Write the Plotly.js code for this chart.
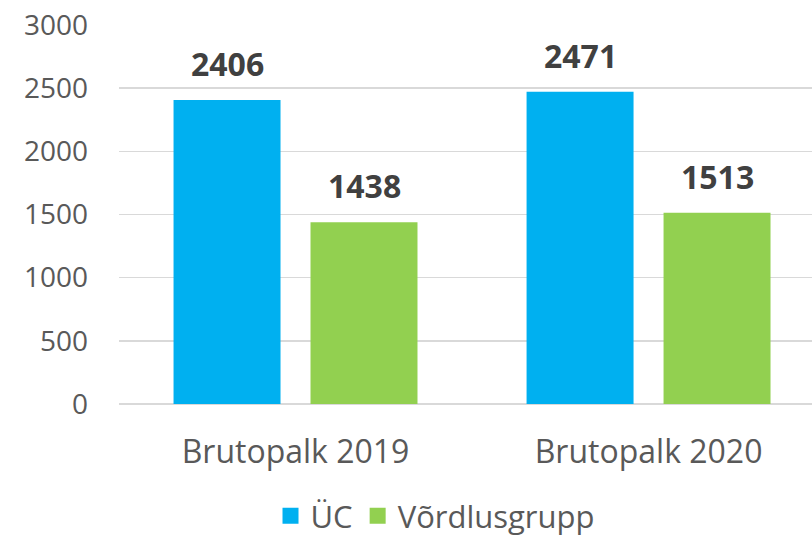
<!DOCTYPE html>
<html>
<head>
<meta charset="utf-8">
<script src="https://cdn.plot.ly/plotly-3.0.1.min.js"></script>
<style>html,body{margin:0;padding:0;background:#fff;}#chart{width:812px;height:539px;}</style>
</head>
<body>
<div id="chart"></div>
<script>
const categories = ["Brutopalk 2019", "Brutopalk 2020"];
const seriesNames = ["ÜC", "Võrdlusgrupp"];
const ucValues = [2406, 2471];
const groupValues = [1438, 1513];
const colors = ["#00B0F0", "#92D050"];
const yTicks = [0, 500, 1000, 1500, 2000, 2500, 3000];

const seriesValues = [ucValues, groupValues];
const FONT = "'Open Sans', 'Noto Sans', sans-serif";

const traces = seriesValues.map((vals, i) => ({
  type: "bar",
  name: seriesNames[i],
  x: categories,
  y: vals,
  marker: { color: colors[i] },
  showlegend: false,
  hoverinfo: "x+y+name"
}));

seriesNames.forEach((n, i) => {
  traces.push({
    type: "scatter",
    mode: "markers",
    name: n,
    x: [null],
    y: [null],
    marker: { symbol: "square", size: 20, color: colors[i] },
    showlegend: true
  });
});

const offsets = [-68.5, 68.5];
const annotations = [];
seriesValues.forEach((vals, i) => {
  vals.forEach((v, j) => {
    annotations.push({
      x: categories[j], y: v, xref: "x", yref: "y",
      text: "<b>" + v + "</b>",
      showarrow: false,
      xshift: offsets[i], yshift: 13,
      yanchor: "bottom",
      font: { family: FONT, size: 32, color: "#404040" }
    });
  });
});

const layout = {
  width: 812, height: 539,
  margin: { l: 119, r: 0, t: 25, b: 135, autoexpand: false },
  paper_bgcolor: "#ffffff",
  plot_bgcolor: "#ffffff",
  barmode: "group",
  bargap: 0.224,
  bargroupgap: 0.219,
  font: { family: FONT, color: "#595959" },
  xaxis: {
    type: "category",
    range: [-0.5, 1.463],
    showgrid: false,
    showline: false,
    zeroline: false,
    ticks: "",
    tickfont: { family: FONT, size: 32, color: "#595959" },
    ticklabelstandoff: 26,
    automargin: false
  },
  yaxis: {
    range: [0, 3000],
    tickvals: yTicks,
    ticktext: yTicks.map(String),
    showgrid: true,
    gridcolor: "#D9D9D9",
    gridwidth: 1.5,
    zeroline: true,
    zerolinecolor: "#D9D9D9",
    zerolinewidth: 1.5,
    showline: false,
    ticks: "",
    tickfont: { family: FONT, size: 28, color: "#595959" },
    ticklabelstandoff: 30,
    automargin: false
  },
  showlegend: true,
  legend: {
    orientation: "h",
    x: 0.456, xanchor: "center",
    y: -0.296, yanchor: "middle",
    font: { family: FONT, size: 31, color: "#595959" },
    itemwidth: 30
  },
  annotations: annotations
};

Plotly.newPlot("chart", traces, layout, { displayModeBar: false, staticPlot: true });
</script>
</body>
</html>
